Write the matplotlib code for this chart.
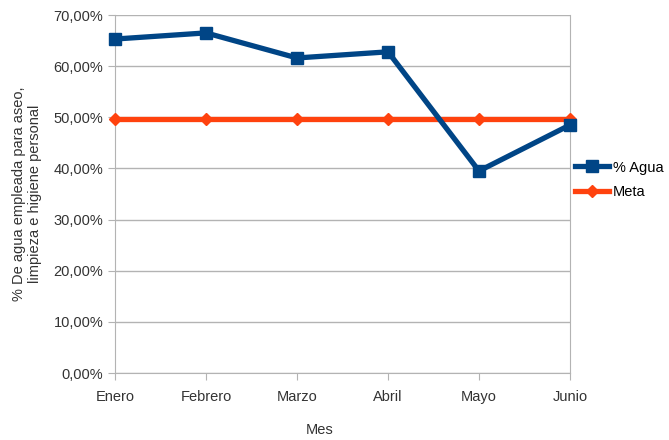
import matplotlib
matplotlib.use("Agg")
import matplotlib.pyplot as plt
from matplotlib.ticker import FuncFormatter

meses = ["Enero", "Febrero", "Marzo", "Abril", "Mayo", "Junio"]
agua = [65.3, 66.5, 61.6, 62.8, 39.5, 48.5]
meta = [49.7, 49.7, 49.7, 49.7, 49.7, 49.7]
yticks = [0, 10, 20, 30, 40, 50, 60, 70]

plt.rcParams['font.family'] = ['Liberation Sans', 'DejaVu Sans']

fig = plt.figure(figsize=(6.69, 4.40), dpi=100)
ax = fig.add_axes([115/669, 1-373/440, (570-115)/669, (373-15)/440])

x = list(range(len(meses)))
l1, = ax.plot(x, agua, color="#004586", lw=3.8, marker="s", markersize=9, label="% Agua", zorder=4, clip_on=False)
l2, = ax.plot(x, meta, color="#FF420E", lw=3.8, marker="D", markersize=6.5, label="Meta", zorder=3, clip_on=False)

ax.set_xlim(0, 5)
ax.set_ylim(0, 70)
ax.set_yticks(yticks)
ax.yaxis.set_major_formatter(FuncFormatter(lambda v, p: f"{v:.2f}".replace(".", ",") + "%"))
ax.set_xticks(x)
ax.set_xticklabels(meses)
ax.grid(axis="y", color="#b3b3b3", lw=1)
ax.set_axisbelow(True)
ax.spines["top"].set_visible(False)
for s in ["left", "right", "bottom"]:
    ax.spines[s].set_color("#b3b3b3")
ax.tick_params(axis="both", colors="#b3b3b3", labelcolor="#333333", labelsize=10.5, length=5)
ax.tick_params(axis="x", pad=7)

ax.set_ylabel("% De agua empleada para aseo,\nlimpieza e higiene personal", fontsize=10.5, color="#333333", labelpad=8)
fig.text(320/669, 1-430/440, "Mes", ha="center", va="center", fontsize=10.5, color="#333333")

fig.legend(handles=[l1, l2], loc="center left", bbox_to_anchor=(575/669, 1-180/440),
           frameon=False, fontsize=10.5, handlelength=2.3, handletextpad=0.3, labelspacing=0.75,
           borderaxespad=0, borderpad=0)

fig.savefig("out.png", dpi=100)
